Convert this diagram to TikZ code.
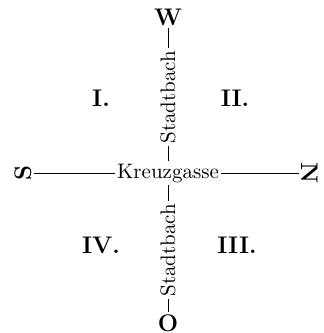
\documentclass[tikz,border=0pt]{standalone}
\usetikzlibrary{positioning}
\begin{document}
\begin{tikzpicture}[x=0.5pt, y=-0.5pt,
  every node/.style={inner sep=1pt, font=\fontsize{10.5}{12}\selectfont},
  wind/.style={font=\fontsize{12}{14}\selectfont\bfseries},
  quarter/.style={font=\fontsize{12}{14}\selectfont\bfseries},
  street/.style={line width=0.5pt}]
\useasboundingbox (0,0) rectangle (323,333);
% Crossing
\node (kreuz) at (168,173) {Kreuzgasse};
\node[rotate=90] (bachN) at (168,97) {Stadtbach};
\node[rotate=90] (bachS) at (168,250) {Stadtbach};
% Directions
\node[wind] (w) at (168,17) {W};
\node[wind] (o) at (168,323) {O};
\node[wind, rotate=90] (s) at (23,173) {S};
\node[wind, rotate=-90] (n) at (310,173) {N};
% Quarters
\node[quarter] (q1) at (101,98) {I.};
\node[quarter] (q2) at (235,98) {II.};
\node[quarter] (q3) at (237,245) {III.};
\node[quarter] (q4) at (101,245) {IV.};
% Streets
\draw[street] (w.south) -- (bachN.east);
\draw[street] (bachN.west) -- (kreuz.north);
\draw[street] (kreuz.south) -- (bachS.east);
\draw[street] (bachS.west) -- (o.north);
\draw[street] (s.south) -- (kreuz.west);
\draw[street] (kreuz.east) -- (n.south);
\end{tikzpicture}
\end{document}
